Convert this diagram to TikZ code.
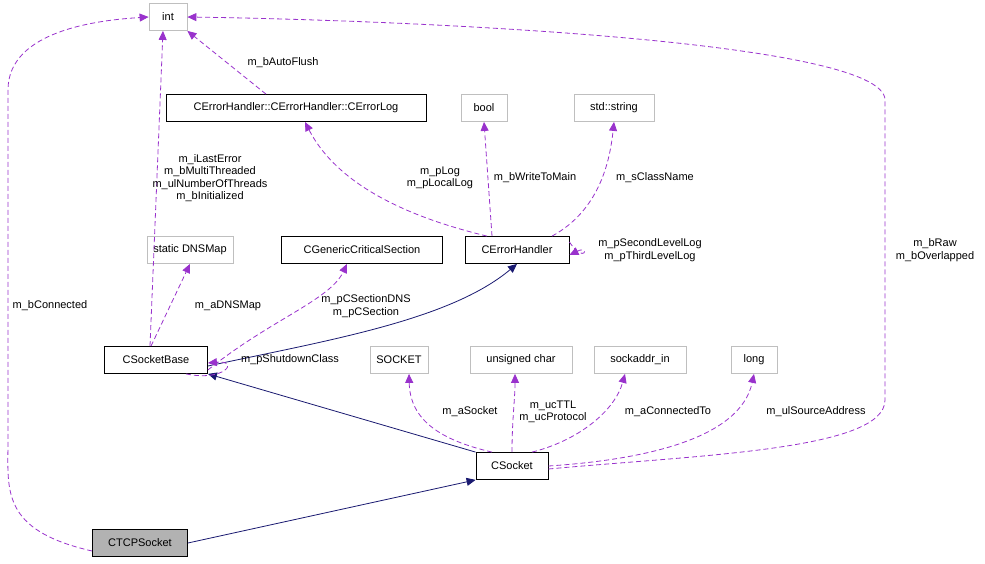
\documentclass[tikz,border=0pt]{standalone}
\usepackage{fontspec}
\setmainfont{Liberation Sans}
\usetikzlibrary{arrows.meta}
\begin{document}
\begin{tikzpicture}[x=1pt,y=-1pt,
 box/.style={draw=black,line width=0.8pt,minimum height=27pt,inner sep=0pt,font=\fontsize{11}{13}\selectfont},
 gbox/.style={box,draw=black!25},
 inh/.style={draw={rgb,255:red,25;green,25;blue,112},line width=0.8pt,-{Triangle[length=9pt,width=8pt]}},
 use/.style={draw={rgb,255:red,153;green,50;blue,204},line width=0.8pt,dash pattern=on 5pt off 3pt,-{Triangle[length=9pt,width=8pt]}},
 lab/.style={font=\fontsize{11}{12.5}\selectfont,align=center,inner sep=1pt}]
\useasboundingbox (0,0) rectangle (985,563);
\node[gbox,minimum width=38pt] (int) at (168,17) {int};
\node[box,minimum width=260pt] (elog) at (296,108) {CErrorHandler::CErrorHandler::CErrorLog};
\node[gbox,minimum width=46pt] (bool) at (484,108) {bool};
\node[gbox,minimum width=80pt] (str) at (614,108) {std::string};
\node[gbox,minimum width=86pt] (dns) at (190,250) {static DNSMap};
\node[box,minimum width=161pt] (cgcs) at (362,250) {CGenericCriticalSection};
\node[box,minimum width=104pt] (eh) at (517,250) {CErrorHandler};
\node[box,minimum width=103pt] (sb) at (156,360) {CSocketBase};
\node[gbox,minimum width=58pt] (sock) at (399,360) {SOCKET};
\node[gbox,minimum width=102pt] (uc) at (521,360) {unsigned char};
\node[gbox,minimum width=92pt] (sa) at (640,360) {sockaddr\_in};
\node[gbox,minimum width=46pt] (long) at (754,360) {long};
\node[box,minimum width=72pt] (cs) at (512,466) {CSocket};
\node[box,fill=black!30,minimum width=95pt] (tcp) at (140,543) {CTCPSocket};

\draw[inh] (tcp.east) -- (cs.south west);
\draw[inh] (cs.north west) -- (sb.south east);
\draw[inh] ([yshift=-6pt]sb.east) .. controls (330,340) and (450,320) .. (eh.south);

\draw[use] ([yshift=-8pt]tcp.west) .. controls (0,530) and (8,490) .. (8,440) -- (8,90) .. controls (8,30) and (100,20) .. (int.west);
\node[lab] at (50,306) {m\_bConnected};
\draw[use] ([xshift=-6pt]sb.north) -- ([xshift=-5pt]int.south);
\node[lab] at (210,178) {m\_iLastError\\m\_bMultiThreaded\\m\_ulNumberOfThreads\\m\_bInitialized};
\draw[use] ([xshift=-30pt]elog.north) -- (int.south east);
\node[lab] at (283,63) {m\_bAutoFlush};
\draw[use] ([xshift=-30pt]eh.north) .. controls (420,220) and (340,190) .. (305,122);
\node[lab] at (440,178) {m\_pLog\\m\_pLocalLog};
\draw[use] ([xshift=-25pt]eh.north) -- (bool.south);
\node[lab] at (535,178) {m\_bWriteToMain};
\draw[use] ([xshift=35pt]eh.north) .. controls (600,210) and (610,160) .. (str.south);
\node[lab] at (655,178) {m\_sClassName};
\draw[use] ([yshift=8pt]eh.east) .. controls (585,265) and (590,245) .. ([yshift=-5pt]eh.east);
\node[lab] at (650,250) {m\_pSecondLevelLog\\m\_pThirdLevelLog};
\draw[use] ([xshift=-5pt]sb.north) -- (dns.south);
\node[lab] at (228,306) {m\_aDNSMap};
\draw[use] ([yshift=-10pt]sb.east) .. controls (270,320) and (330,300) .. ([xshift=-15pt]cgcs.south);
\node[lab] at (366,306) {m\_pCSectionDNS\\m\_pCSection};
\draw[use] ([xshift=30pt]sb.south) .. controls (225,382) and (240,360) .. ([yshift=-3pt]sb.east);
\node[lab] at (290,360) {m\_pShutdownClass};
\draw[use] ([xshift=-20pt]cs.north) .. controls (440,440) and (410,420) .. ([xshift=10pt]sock.south);
\node[lab] at (470,412) {m\_aSocket};
\draw[use] (cs.north) .. controls (512,420) and (515,400) .. ([xshift=-6pt]uc.south);
\node[lab] at (553,412) {m\_ucTTL\\m\_ucProtocol};
\draw[use] ([xshift=20pt]cs.north) .. controls (580,440) and (615,410) .. ([xshift=-15pt]sa.south);
\node[lab] at (668,412) {m\_aConnectedTo};
\draw[use] (cs.east) .. controls (640,460) and (740,440) .. (long.south);
\node[lab] at (816,412) {m\_ulSourceAddress};
\draw[use] ([yshift=-3pt]cs.east) .. controls (700,455) and (885,450) .. (885,400) -- (885,100) .. controls (885,40) and (400,20) .. (int.east);
\node[lab] at (935,250) {m\_bRaw\\m\_bOverlapped};
\end{tikzpicture}
\end{document}
